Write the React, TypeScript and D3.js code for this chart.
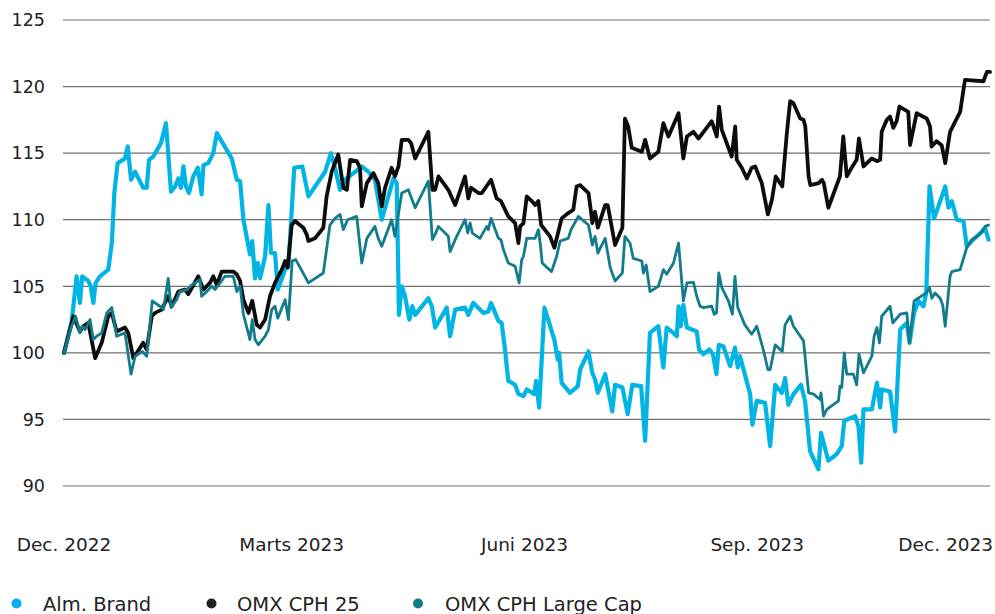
import React from "react";
import * as d3 from "d3";

// Days since 1 Dec 2022, index value (start = 100)
const almBrand: [number, number][] = [
  [0,100],[3,102.3],[5,105.75],[6.3,103.75],[7.2,105.75],[9.6,105.4],[10.6,105],[11.6,103.75],[12.5,105.25],[14.2,105.75],
  [17.5,106.25],[18.9,108.25],[19.9,112],[21.2,114.25],[24.1,114.6],[25.2,115.5],[26.5,113],[28.1,113.6],[31.3,112.4],[32.7,112.4],
  [33.6,114.5],[35.3,114.75],[38.3,115.75],[40.3,117.25],[42.3,112.1],[43.9,112.5],[45.2,113.1],[46.2,112.4],[47.2,114],[48.2,112.5],
  [49.4,112],[51.1,113.25],[52.9,113.9],[54.4,111.9],[55.1,114.1],[57,114.25],[59,115],[60.4,116.5],[66.3,114.6],[68.3,113],
  [69.6,112.9],[70.9,110],[73.5,107.4],[74.4,108.4],[75.5,105.6],[76.6,106.75],[77.5,105.6],[79.5,107.25],[80.8,111.1],[81.8,107.5],
  [83.4,107.5],[84.5,104.75],[87.4,106.25],[88.7,106.5],[91,113.9],[94.2,114],[96.6,111.75],[103.2,113.6],[105.5,115],[107.1,113.9],
  [109.1,112.25],[111.1,113],[117.7,114],[120.3,113.6],[122.9,113],[125.6,110],[128.2,111.75],[130.2,113.1],[131.5,112.75],[132.4,102.85],
  [133.5,105],[134.8,104.25],[136.5,102.5],[137.7,103.5],[138.8,102.85],[144,104.1],[145.4,103.5],[146.7,101.9],[151.3,103.4],[152.6,101.25],
  [154.6,103.25],[158.5,103.4],[159.8,102.85],[161.8,103.75],[165.8,103],[167.7,103.1],[168.8,103.75],[171.7,102.4],[173,102.25],[174.3,100.25],
  [175.6,97.9],[178.3,97.6],[179.6,96.9],[181.6,96.75],[182.9,97.25],[185.9,96.9],[186.6,97.9],[187.8,95.9],[189.9,103.4],[193.8,101],
  [195.2,99.5],[195.7,100],[196.7,97.75],[200,97],[203.1,97.5],[204,98.75],[207.3,100.1],[208.8,98.5],[209.9,98],[211,97],
  [213.9,98.4],[216.7,95.6],[217.8,97.6],[220.7,97.4],[222.8,95.4],[224.6,97.6],[228.1,97.5],[229.7,93.4],[231.6,101.5],[234.9,102],
  [236.9,98.9],[238.2,101.9],[240.2,101.6],[242.2,101.25],[242.9,103.5],[243.8,102],[244.8,103.6],[246.2,101.9],[250.1,101.6],[251,100.25],
  [252.7,99.9],[255.1,100.25],[256.5,99.9],[257.9,98.4],[258.8,100.6],[260.6,100.5],[263.3,99],[265.2,100.4],[266.3,98.9],[267.2,99.75],
  [271.2,96.9],[272.1,94.6],[273.8,96.4],[277.1,96.25],[279.1,93],[281.1,97.6],[283.7,97],[285,98.1],[286.3,96.1],[288.3,96.9],
  [291.3,97.6],[292.9,96.4],[294.9,92.6],[298.2,91.25],[299.2,94],[302.1,91.9],[305.4,92.4],[307.4,93],[308.4,94.9],[312.7,95.25],
  [314,94.5],[315.1,91.75],[316,95.75],[319.3,95.75],[321.3,97.75],[322.6,95.9],[323.2,97.25],[326.5,97.1],[328.5,94.1],[330.5,101.75],
  [333.1,102.25],[334.2,100.75],[336,103],[337.7,103.9],[339.7,103.5],[340.8,104.5],[342.1,112.5],[343.9,110.1],[345.6,111],[348.3,112.5],
  [349.6,110.9],[350.9,111.4],[352.9,110],[355.5,109.9],[356.8,108],[358.8,108.4],[362.8,109.1],[364.1,109.4],[365.4,108.5],
];

const omxC25: [number, number][] = [
  [0,100],[3.7,102.75],[6.3,101.6],[7.6,102],[9.6,102.25],[12.3,99.6],[14.9,100.75],[17.5,102.75],[18.9,103],[20.8,101.6],
  [24.1,101.9],[25.4,101.5],[27.4,99.6],[31.3,100.75],[32.7,100.25],[34.7,102.75],[36,103],[38.6,103.25],[41.2,104.25],[42.6,103.5],
  [45.2,104.6],[47.8,104.75],[49.1,104.4],[53.1,105.75],[55.1,104.75],[57.7,105.25],[59,105.75],[60.4,105.1],[62.3,106.1],[66.9,106.1],
  [68.3,105.9],[69.6,105.4],[70.9,104],[72.9,103],[74.4,103.9],[76.2,102.1],[77.5,101.9],[79.5,102.5],[81.4,104.25],[83.4,105.25],
  [86.1,106.25],[87.4,106.9],[88.4,106.4],[90,109.6],[91.3,109.9],[94.6,109.4],[95.9,108.9],[96.6,108.4],[99.2,108.6],[102.5,109.4],
  [103.8,111.75],[105.8,113.6],[108.4,114.9],[110.4,112.4],[111.8,112.25],[113.1,114.5],[115.7,114.4],[117,113.9],[117.7,111],[119.7,112.75],
  [122.3,113.5],[124.2,112.75],[125.6,111],[126.9,112.4],[129.5,113.9],[130.8,113.25],[132.2,114],[133.5,116],[136.1,116],[137.2,115.75],
  [138.8,114.6],[144,116.6],[145.6,112.25],[146.7,112.25],[148,113.25],[151.9,112.25],[154.6,111.1],[158.5,113.25],[159.8,111.6],[160.9,112.4],
  [163.8,112],[165.1,112],[168.8,113],[171,111.6],[172.7,111.4],[175.6,110.25],[178.3,109.75],[179.6,108.25],[180.3,109.5],[181.6,109.75],
  [182.9,111.75],[184.9,111.4],[186.2,111.1],[187.5,111.4],[188.6,109.6],[192.1,108.75],[193.8,107.9],[196.7,110.1],[199.3,110.5],[201.3,110.75],
  [202.6,112.5],[204,112.6],[207.3,112],[208.3,110.6],[208.8,109.75],[209.9,110.6],[211,109.4],[213.9,111.1],[214.9,111.1],[217.8,108.1],
  [220.7,109.4],[221.7,117.6],[223,117],[224.4,115.4],[228.4,115.1],[229.7,116],[231.6,114.6],[234.9,115.1],[236.9,117.25],[238.9,116.25],
  [242.9,118],[244.8,114.6],[246.2,116.25],[248.8,116.6],[250.8,116.1],[253.4,116.75],[256,117.4],[258,116.25],[258.9,118.5],[260,116.75],
  [263.9,114.75],[265.3,117],[265.9,114.5],[267.9,113.9],[269.9,113.1],[271.8,113.9],[273.2,114],[275.8,112.75],[278.2,110.4],[279.8,111.5],
  [281.3,113.25],[283.9,112.5],[285.7,116.5],[287,118.9],[288.3,118.75],[291,117.6],[292.3,117.5],[293,117],[294.3,113.25],[295,112.6],
  [298.3,112.75],[299.6,113],[300.3,112.75],[302.1,110.9],[306.7,113.25],[308,116.25],[309.4,113.25],[311.3,113.9],[313.3,114.5],[314.2,116.1],
  [316,114],[319.3,114.6],[321.3,114.4],[322.6,114.5],[323.2,116.6],[325.2,117.5],[326.5,117.75],[327.8,116.9],[329.1,117.4],[330.2,118.5],
  [333.7,118.1],[334.4,115.6],[337,118],[341,117.6],[342.3,117],[342.9,115.5],[344.9,115.9],[346.9,115.6],[348.3,114.25],[350.2,116.6],
  [354.2,118.1],[356.1,120.5],[363.4,120.4],[364.8,121.1],[366,121.1],
];

const omxLargeCap: [number, number][] = [
  [0,100],[3,102],[4.6,102.75],[6.3,101.5],[7.2,102],[8.3,101.75],[10.3,102.5],[11.6,101],[12.9,101.25],[14.9,101.5],
  [16.9,103],[18.9,103.4],[20.8,101.25],[24.1,101.5],[26.5,98.4],[28.1,99.75],[31,100.1],[32.7,99.75],[34.9,103.9],[37.9,103.5],
  [39.3,103.25],[41.2,105.6],[42.3,103.4],[44.5,104],[45.8,104.6],[48.5,104.75],[50.5,105.1],[53.8,105.5],[54.4,104.25],[56.4,104.6],
  [58.4,105],[59.7,104.75],[61.7,105.25],[63.6,105.75],[66.9,105.75],[68.3,104.6],[69.6,105],[70.9,102.9],[73.5,101],[74.4,102.5],
  [75.5,101],[76.8,100.6],[79.5,101.25],[80.8,101.75],[82.1,103.25],[83.4,103.5],[84.5,102.6],[87.4,104],[88.7,102.5],[90.2,106.9],
  [91.6,107],[94.2,106.1],[96.6,105.25],[102.5,106],[105.1,109.6],[107.1,110.1],[109.1,110.4],[110.4,109.25],[112.1,110],[115.7,110.25],
  [117.7,106.75],[119.7,108.6],[122.9,109.5],[124.2,108.6],[125.6,108],[129.5,110],[130.8,108.75],[133.5,112],[136.1,112.25],[138.8,110.9],
  [144,112.9],[145.6,108.5],[146.7,108.9],[148,109.5],[151.9,108.75],[152.6,107.6],[154.6,108.5],[158.5,110],[159.6,109],[160.5,109.75],
  [161.4,109],[164.4,108.6],[167.1,109.5],[167.7,109.25],[168.8,110.1],[171.7,108.6],[172.7,108.5],[173.7,107.75],[175.6,106.75],[178.3,106.5],
  [179.9,105.25],[180.9,107],[181.6,107.25],[182.9,108.6],[186.2,108.6],[187.5,109.25],[188.3,108.1],[189,106.75],[192.7,106.1],[194.7,107.25],
  [196.1,108.4],[199.3,108.6],[200.4,109.25],[203.3,110.25],[207.3,109.6],[208.8,108.1],[209.9,108.75],[211,107.5],[213.9,108.6],[215.9,106.4],
  [217.8,105.4],[220.7,106],[221.7,108.75],[223.7,108.25],[225,107.1],[228.4,106.9],[229,106],[230.1,106.6],[231.6,104.6],[234.9,105],
  [236.9,106.25],[238.2,105.9],[240.9,106.75],[242.9,108.25],[244.8,103.9],[246.2,105.25],[248.8,105.3],[250.1,104.25],[251.4,103.5],[252.7,103.4],
  [256,103.5],[257,102.9],[257.9,103],[258.8,106],[260,104.9],[262.6,103.9],[264.2,102.9],[265.2,105.75],[266.3,103.4],[269.1,102.1],
  [271.8,101.4],[273.8,102],[276.4,100.25],[278.2,98.75],[279.1,98.75],[281.1,100.6],[283.9,100.1],[285,102.1],[287,102.75],[288.3,102],
  [292.3,100.9],[294.3,97],[296.3,96.9],[298.8,96.5],[299.2,97],[300.2,95.25],[301.5,95.75],[306.1,96.4],[306.7,97.5],[307.4,97.4],
  [308.4,100],[309.4,98.4],[312,98.4],[313.3,97.6],[314.2,99.9],[316,98.5],[319.3,99.75],[320.2,101.25],[321.3,101.9],[322.3,100.75],
  [323.2,102.75],[326.5,103.5],[327.6,102.25],[330.5,102.9],[333.1,103],[334.2,100.75],[336,103.9],[338.4,104.2],[340.8,104.5],[342.1,104.9],
  [343,104.1],[344.3,104.5],[346.3,104.1],[347.3,103.6],[348.3,102],[350.2,105.75],[350.9,106.1],[354.2,106.25],[356.8,107.9],[358.8,108.5],
  [360.8,108.75],[362.8,109.1],[364.1,109.5],[365.4,109.6],
];

const seriesNames = ["Alm. Brand", "OMX CPH 25", "OMX CPH Large Cap"];
const seriesColors = ["#00b4e4", "#0d0d0d", "#127b8c"];
const legendColors = ["#00b0ea", "#231f20", "#127b8c"];
const seriesWidths = [4.2, 3.8, 2.8];
const seriesData = [almBrand, omxC25, omxLargeCap];

const yTicks = [90, 95, 100, 105, 110, 115, 120, 125];
const xTickDates = ["2022-12-01", "2023-03-01", "2023-06-01", "2023-09-01", "2023-12-01"];
const xTickLabels = ["Dec. 2022", "Marts 2023", "Juni 2023", "Sep. 2023", "Dec. 2023"];

const W = 995;
const H = 614;
const startDate = new Date(2022, 11, 1);
const endDate = new Date(2023, 11, 2);
const toDate = (d: number) => new Date(startDate.getTime() + d * 864e5);
const FONT = "'DejaVu Sans', Verdana, sans-serif";

export default function App() {
  const x = d3.scaleTime().domain([startDate, endDate]).range([64, 990]);
  const y = d3.scaleLinear().domain([90, 125]).range([486, 20]);
  const line = d3
    .line<[number, number]>()
    .x((p) => x(toDate(p[0])))
    .y((p) => y(p[1]));

  const legendCircleX = [16.5, 211.5, 418];
  const legendTextX = [43, 237, 445];

  return (
    <div style={{ position: "absolute", left: 0, top: 0 }}>
      <svg width={W} height={H} style={{ display: "block", background: "#fff" }}>
        {yTicks.map((t) => (
          <g key={t}>
            <line x1={63} x2={990} y1={y(t)} y2={y(t)} stroke="#707070" strokeWidth={1.2} />
            <text x={45} y={y(t)} dy="0.36em" textAnchor="end" fontFamily={FONT} fontSize={17.5} fill="#222">
              {t}
            </text>
          </g>
        ))}
        {xTickDates.map((ds, i) => {
          const last = i === xTickDates.length - 1;
          const [yy, mm, dd] = ds.split("-").map(Number);
          const px = x(new Date(yy, mm - 1, dd));
          return (
            <text
              key={ds}
              x={last ? 993 : px}
              y={551}
              textAnchor={last ? "end" : "middle"}
              fontFamily={FONT}
              fontSize={18.5}
              fill="#222"
            >
              {xTickLabels[i]}
            </text>
          );
        })}
        {seriesData.map((s, i) => (
          <path
            key={seriesNames[i]}
            d={line(s) || ""}
            fill="none"
            stroke={seriesColors[i]}
            strokeWidth={seriesWidths[i]}
            strokeLinejoin="round"
            strokeLinecap="round"
          />
        ))}
        {seriesNames.map((n, i) => (
          <g key={n}>
            <circle cx={legendCircleX[i]} cy={603.5} r={5} fill={legendColors[i]} />
            <text x={legendTextX[i]} y={611} fontFamily={FONT} fontSize={19.5} fill="#222">
              {n}
            </text>
          </g>
        ))}
      </svg>
    </div>
  );
}
